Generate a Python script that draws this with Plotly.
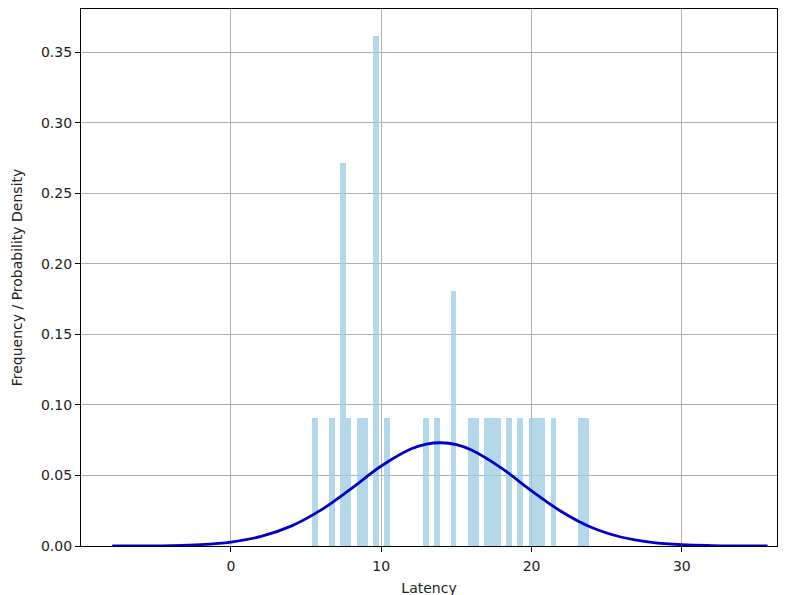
import plotly.graph_objects as go

# Histogram (density): 50 equal bins between data min and max
data_min = 5.42
data_max = 23.85
n_bins = 50
bin_counts = [1, 0, 0, 1, 0, 3, 1, 0, 1, 1,
              0, 4, 0, 1, 0, 0, 0, 0, 0, 0,
              1, 0, 1, 0, 0, 2, 0, 0, 1, 1,
              0, 1, 1, 1, 0, 1, 0, 1, 0, 1,
              1, 1, 0, 1, 0, 0, 0, 0, 1, 1]

# Fitted normal curve
curve_x = [-7.9, -6, -4, -2, 0, 2, 4, 6, 8, 10, 12, 13, 14, 15, 16, 18, 20, 22, 24, 26, 28, 30, 32, 34, 35.7]
curve_y = [0.0000, 0.0001, 0.0003, 0.0010, 0.0028, 0.0068, 0.0141, 0.0256, 0.0407, 0.0567,
           0.0689, 0.0722, 0.0732, 0.0718, 0.0680, 0.0552, 0.0391, 0.0243, 0.0131, 0.0062,
           0.0026, 0.0009, 0.0003, 0.0001, 0.0000]

x_tick_vals = [0, 10, 20, 30]
y_tick_vals = [0.00, 0.05, 0.10, 0.15, 0.20, 0.25, 0.30, 0.35]
y_tick_text = ["0.00", "0.05", "0.10", "0.15", "0.20", "0.25", "0.30", "0.35"]

bin_w = (data_max - data_min) / n_bins
total = sum(bin_counts)
centers = [data_min + (i + 0.5) * bin_w for i in range(n_bins)]
density = [c / (total * bin_w) for c in bin_counts]

fig = go.Figure()
fig.add_trace(go.Bar(x=centers, y=density, width=bin_w,
                     marker=dict(color="rgba(160,206,228,0.8)", line=dict(width=0)),
                     showlegend=False, hoverinfo="skip"))
fig.add_trace(go.Scatter(x=curve_x, y=curve_y, mode="lines",
                         line=dict(color="#0000C8", width=2.8, shape="spline"),
                         showlegend=False))

font = dict(family="DejaVu Sans", size=14, color="#222222")

fig.update_layout(
    width=774, height=595,
    margin=dict(l=73, r=5, t=1, b=57),
    paper_bgcolor="white", plot_bgcolor="white",
    font=font,
    bargap=0,
    xaxis=dict(range=[-9.98, 36.33], tickvals=x_tick_vals, automargin=False,
               showgrid=True, gridcolor="#b0b0b0", gridwidth=1,
               showline=True, linecolor="black", linewidth=1.2, mirror=True,
               ticks="outside", ticklen=5, tickcolor="black", zeroline=False,
               ticklabelstandoff=2,
               title=dict(text="Latency", font=font, standoff=10)),
    yaxis=dict(range=[0, 0.3807], tickvals=y_tick_vals, ticktext=y_tick_text, automargin=False,
               showgrid=True, gridcolor="#b0b0b0", gridwidth=1,
               showline=True, linecolor="black", linewidth=1.2, mirror=True,
               ticks="outside", ticklen=5, tickcolor="black", zeroline=False,
               title=dict(text="Frequency / Probability Density", font=font, standoff=15)),
)

fig.write_html("out.html")
